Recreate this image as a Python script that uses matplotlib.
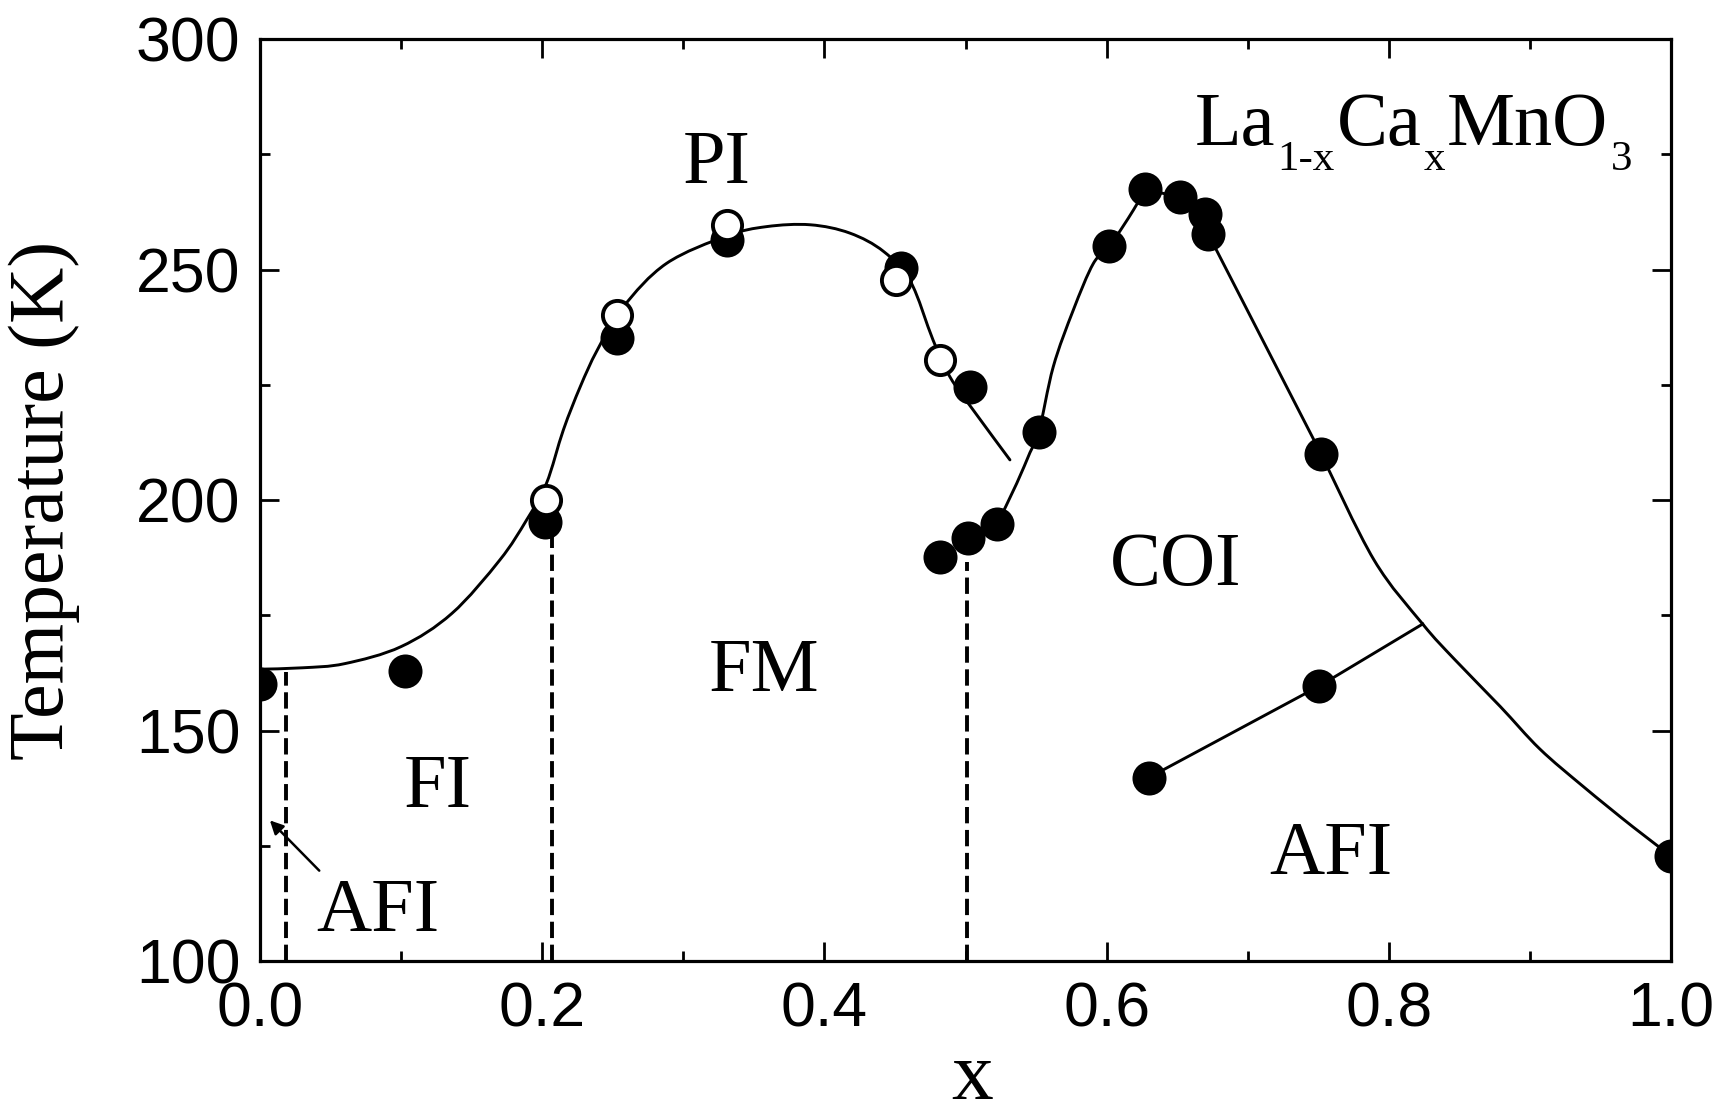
import numpy as np
import matplotlib
matplotlib.use("Agg")
import matplotlib.pyplot as plt
from matplotlib.path import Path
from matplotlib.patches import PathPatch
from matplotlib.ticker import MultipleLocator, FormatStrFormatter

# ---- measured transition temperatures (K) vs Ca content x ----
# Curie temperature, filled symbols
x_fm = [0.0, 0.103, 0.202, 0.253, 0.331, 0.454, 0.503]
T_fm = [160.0, 162.8, 195.3, 235.1, 256.4, 250.3, 224.6]

# open symbols
x_open = [0.203, 0.253, 0.331, 0.451, 0.482]
T_open = [200.0, 240.1, 259.7, 247.7, 230.4]

# charge-ordering temperature
x_co = [0.482, 0.502, 0.5225, 0.552, 0.602, 0.627, 0.652, 0.670, 0.672, 0.752, 1.0]
T_co = [187.7, 191.7, 194.8, 214.7, 255.0, 267.4, 265.7, 262.0, 257.7, 210.0, 122.8]

# Neel temperature inside the COI region (last entry: meets the COI boundary)
x_n = [0.630, 0.7505, 0.824]
T_n = [139.8, 159.6, 173.1]

# guide-to-the-eye phase boundaries
x_fm_line = [0.0, 0.03, 0.06, 0.10, 0.136, 0.170, 0.189, 0.203, 0.215, 0.227,
             0.239, 0.2575, 0.288, 0.331, 0.359, 0.390, 0.418, 0.442, 0.461,
             0.477, 0.489, 0.5055, 0.5315]
T_fm_line = [163.3, 163.6, 164.5, 168.2, 175.4, 187.0, 195.7, 203.6, 215.2, 224.6,
             232.5, 241.9, 251.3, 257.3, 259.3, 259.7, 257.9, 253.9, 247.4,
             234.7, 226.7, 219.5, 208.7]

x_co_rise = [0.5225, 0.5363, 0.5457, 0.552, 0.5622, 0.5764, 0.5906, 0.602, 0.619, 0.627]
T_co_rise = [194.8, 203.6, 210.3, 214.7, 228.9, 241.2, 251.3, 255.0, 262.9, 267.4]
x_co_top = [0.627, 0.652, 0.670, 0.672, 0.752]
T_co_top = [267.4, 265.7, 262.0, 257.7, 210.0]
x_co_tail = [0.752, 0.7895, 0.824, 0.8467, 0.879, 0.907, 0.938, 0.973, 1.0]
T_co_tail = [210.0, 187.0, 173.1, 165.4, 155.2, 146.0, 137.8, 129.1, 122.8]

# vertical low-temperature boundaries: x and upper end T
x_dash = [0.0185, 0.207, 0.501]
T_dash = [162.6, 192.0, 186.6]

# phase labels: (text, x, baseline T)
phase_labels = [("PI", 0.3237, 268.8), ("FM", 0.357, 158.6), ("FI", 0.126, 133.5),
                ("AFI", 0.0836, 106.4), ("COI", 0.649, 181.6), ("AFI", 0.7587, 118.8)]

# compound formula: (piece, is_subscript)
formula = [("La", False), ("1-x", True), ("Ca", False), ("x", True),
           ("MnO", False), ("3", True)]

SERIF = "Liberation Serif"
SANS = "Liberation Sans"


def smooth_path(xs, ys):
    """Catmull-Rom curve through the given points, as cubic Bezier segments."""
    P = np.column_stack([xs, ys]).astype(float)
    n = len(P)
    verts = [P[0]]
    codes = [Path.MOVETO]
    for i in range(n - 1):
        p0 = P[i - 1] if i > 0 else P[i]
        p1, p2 = P[i], P[i + 1]
        p3 = P[i + 2] if i + 2 < n else P[i + 1]
        verts += [p1 + (p2 - p0) / 6.0, p2 - (p3 - p1) / 6.0, p2]
        codes += [Path.CURVE4] * 3
    return Path(verts, codes)


fig = plt.figure(figsize=(17.32, 11.17), dpi=100)
ax = fig.add_axes([260 / 1732, 1 - 961 / 1117, 1411 / 1732, 922 / 1117])

line_kw = dict(fill=False, edgecolor="black", lw=2.1, capstyle="round", zorder=2)
ax.add_patch(PathPatch(smooth_path(x_fm_line, T_fm_line), **line_kw))
ax.add_patch(PathPatch(smooth_path(x_co_rise, T_co_rise), **line_kw))
ax.plot(x_co_top, T_co_top, color="black", lw=2.1, zorder=2)
ax.add_patch(PathPatch(smooth_path(x_co_tail, T_co_tail), **line_kw))
ax.plot(x_n, T_n, color="black", lw=2.1, zorder=2)

for xd, td in zip(x_dash, T_dash):
    ax.plot([xd, xd], [100, td], color="black", lw=2.8,
            linestyle=(0, (4.2, 1.7)), zorder=1)

ax.plot(x_fm, T_fm, "o", ms=23, mfc="black", mec="black", mew=1.5, zorder=3)
ax.plot(x_co, T_co, "o", ms=23, mfc="black", mec="black", mew=1.5, zorder=3)
ax.plot(x_n[:2], T_n[:2], "o", ms=23, mfc="black", mec="black", mew=1.5, zorder=3)
ax.plot(x_open, T_open, "o", ms=21, mfc="white", mec="black", mew=2.8, zorder=4)

ax.annotate("", xy=(0.007, 130.5), xytext=(0.042, 119.6),
            arrowprops=dict(arrowstyle="-|>", color="black", lw=1.8,
                            mutation_scale=20, shrinkA=0, shrinkB=0))

for txt, xt, tt in phase_labels:
    ax.text(xt, tt, txt, ha="center", va="baseline", fontsize=55,
            family=SERIF, color="black")

# formula: each piece placed right after the previous one, subscripts lowered
T_base = 277.1
prev = ax.text(0.6625, T_base, formula[0][0], ha="left", va="baseline",
               fontsize=55, family=SERIF, color="black")
for piece, is_sub in formula[1:]:
    prev = ax.annotate(piece, xy=(1, T_base), xycoords=(prev, "data"),
                       xytext=(1.5, -18 if is_sub else 0),
                       textcoords="offset points", ha="left", va="baseline",
                       fontsize=31 if is_sub else 55, family=SERIF, color="black")

ax.set_xlim(0, 1)
ax.set_ylim(100, 300)
ax.xaxis.set_major_locator(MultipleLocator(0.2))
ax.xaxis.set_minor_locator(MultipleLocator(0.1))
ax.yaxis.set_major_locator(MultipleLocator(50))
ax.yaxis.set_minor_locator(MultipleLocator(25))
ax.xaxis.set_major_formatter(FormatStrFormatter("%.1f"))
ax.yaxis.set_major_formatter(FormatStrFormatter("%d"))

ax.tick_params(which="both", direction="in", top=True, right=True, width=2,
               colors="black")
ax.tick_params(which="major", length=13.5)
ax.tick_params(which="minor", length=7)
ax.tick_params(axis="x", which="major", pad=14, labelsize=45)
ax.tick_params(axis="y", which="major", pad=14, labelsize=45)
for lab in ax.get_xticklabels() + ax.get_yticklabels():
    lab.set_family(SANS)

for sp in ax.spines.values():
    sp.set_linewidth(2.3)

ax.set_ylabel("Temperature (K)", family=SERIF, fontsize=56, va="center")
ax.yaxis.set_label_coords(-0.153, 0.5)
ax.set_xlabel("x", family=SERIF, fontsize=60, va="baseline")
ax.xaxis.set_label_coords(0.505, -0.1497)

fig.savefig("out.png", dpi=100, facecolor="white")
